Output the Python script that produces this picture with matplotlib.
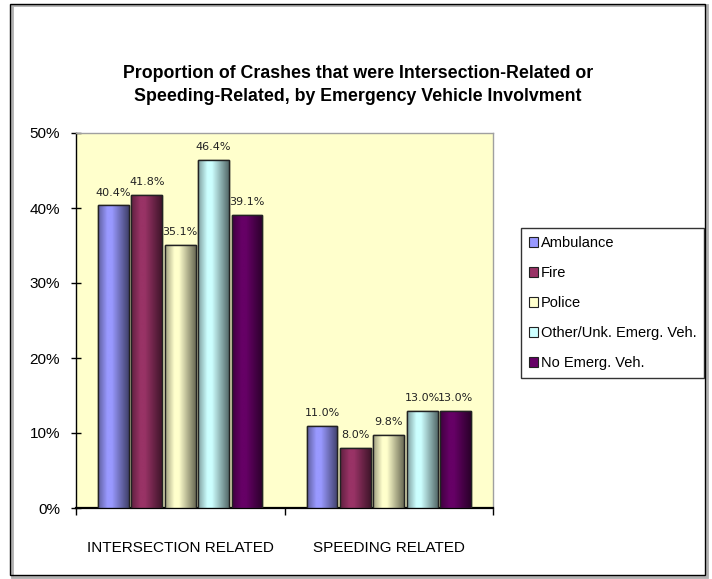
import matplotlib
matplotlib.use("Agg")
import matplotlib.pyplot as plt
import numpy as np
from matplotlib.patches import Rectangle
from matplotlib import font_manager as fm
from matplotlib.colors import to_rgb

categories = ["INTERSECTION RELATED", "SPEEDING RELATED"]
series = ["Ambulance", "Fire", "Police", "Other/Unk. Emerg. Veh.", "No Emerg. Veh."]
values = {
    "Ambulance": [40.4, 11.0],
    "Fire": [41.8, 8.0],
    "Police": [35.1, 9.8],
    "Other/Unk. Emerg. Veh.": [46.4, 13.0],
    "No Emerg. Veh.": [39.1, 13.0],
}
colors = ["#9999FF", "#993366", "#FFFFCC", "#CCFFFF", "#660066"]
yticks = [0, 10, 20, 30, 40, 50]
title = "Proportion of Crashes that were Intersection-Related or\nSpeeding-Related, by Emergency Vehicle Involvment"

names = {f.name for f in fm.fontManager.ttflist}
narrow = "Liberation Sans Narrow" if "Liberation Sans Narrow" in names else "Liberation Sans"
plt.rcParams["font.family"] = [narrow, "DejaVu Sans"]

W, H = 712, 579
fig = plt.figure(figsize=(W / 100, H / 100), dpi=100)
fig.patch.set_facecolor("white")

# figure border with shadow
fig.patches.append(Rectangle((12 / W, 1 - 577 / H), (707 - 12) / W, (577 - 5) / H,
                             transform=fig.transFigure, fill=False, edgecolor="#b0b0b0", lw=2.0))
fig.patches.append(Rectangle((10 / W, 1 - 575 / H), (705 - 10) / W, (575 - 4) / H,
                             transform=fig.transFigure, fill=False, edgecolor="black", lw=1.0))

ax = fig.add_axes([76 / W, 1 - 508 / H, (493 - 76) / W, (508 - 133) / H])
ax.set_facecolor("#FFFFCC")

x = np.arange(len(categories))
step = 0.16
bw = 0.148
profile_x = np.linspace(0, 1, 64)
profile = np.interp(profile_x, [0, 0.3, 0.45, 1.0], [0.62, 1.0, 1.0, 0.42])

for i, (s, c) in enumerate(zip(series, colors)):
    offs = (i - 2) * step
    bars = ax.bar(x + offs, values[s], width=bw, color=c, edgecolor="#222222", lw=1.0, label=s, zorder=3)
    rgb = np.array(to_rgb(c))
    grad = np.clip(rgb[None, :] * profile[:, None], 0, 1)[None, :, :]
    for b, v in zip(bars, values[s]):
        x0 = b.get_x()
        im = ax.imshow(grad, extent=[x0, x0 + b.get_width(), 0, v], aspect="auto",
                       zorder=3.5, interpolation="bilinear")
        im.set_clip_path(b)
        ax.bar(b.get_x() + b.get_width() / 2, v, width=bw, fill=False, edgecolor="#222222",
               lw=1.0, zorder=4)
        ax.text(b.get_x() + b.get_width() / 2, v + 1.0, f"{v:.1f}%", ha="center", va="bottom",
                fontsize=8, family=["DejaVu Sans"], color="#222222", zorder=5)

ax.set_xlim(-0.5, 1.5)
ax.set_ylim(0, 50)
ax.set_yticks(yticks)
ax.set_yticklabels([f"{t}%" for t in yticks], fontsize=11)
ax.set_xticks([-0.5, 0.5, 1.5])
ax.set_xticklabels([])
ax.set_xticks(x, minor=True)
ax.set_xticklabels(categories, minor=True, fontsize=11)
ax.tick_params(axis="x", which="minor", length=0, pad=24)
ax.tick_params(axis="x", which="major", direction="out", length=5, width=1)
ax.tick_params(axis="y", direction="inout", length=7, width=1, pad=8)

for side in ["top", "right"]:
    ax.spines[side].set_color("#a0a0a0")
    ax.spines[side].set_linewidth(1.0)
for side in ["left", "bottom"]:
    ax.spines[side].set_color("black")
ax.spines["bottom"].set_linewidth(1.6)
ax.spines["left"].set_linewidth(1.0)

fig.text(358 / W, 1 - 85 / H, title, ha="center", va="center", fontsize=12.8,
         fontweight="bold", linespacing=1.45)

leg = fig.legend(loc="upper left", bbox_to_anchor=(521 / W, 1 - 228 / H), ncol=1,
                 frameon=True, fancybox=False, edgecolor="black", fontsize=10.5,
                 handlelength=0.6, handleheight=0.6, handletextpad=0.2,
                 labelspacing=1.1, borderpad=0.55, borderaxespad=0)
leg.get_frame().set_linewidth(1.0)
for h in leg.legend_handles:
    h.set_edgecolor("#222222")
    h.set_linewidth(0.8)

fig.savefig("out.png", dpi=100)
